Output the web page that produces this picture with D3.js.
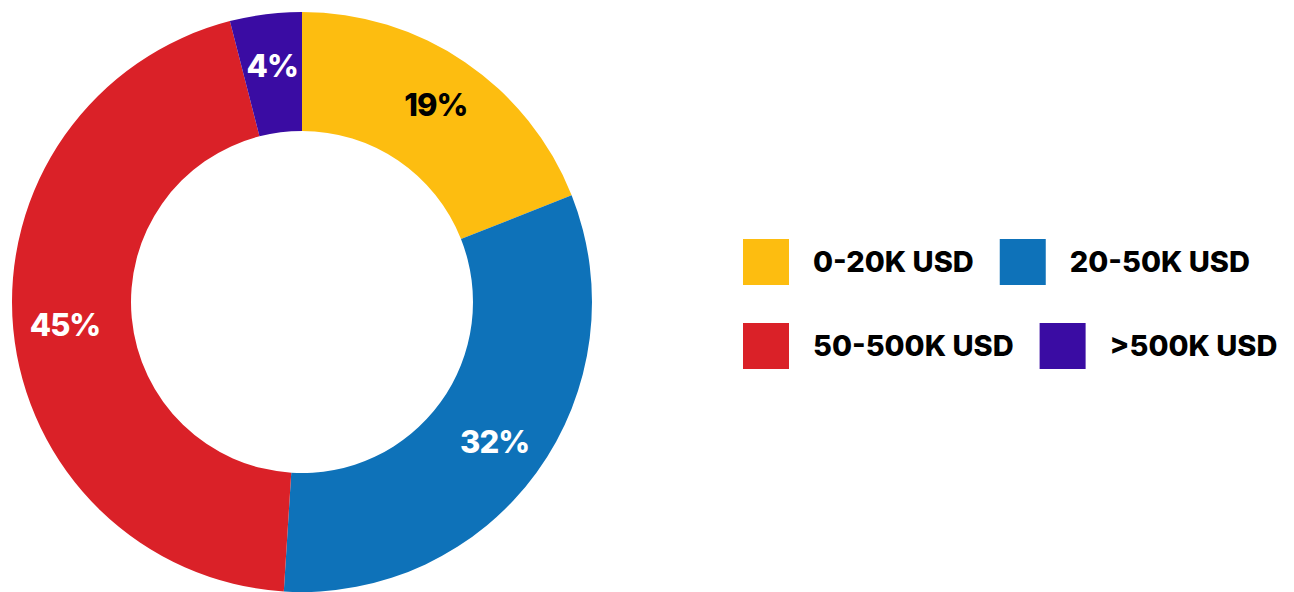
<!DOCTYPE html>
<html>
<head>
<meta charset="utf-8">
<script src="https://cdn.jsdelivr.net/npm/d3@7"></script>
<style>
  body { margin: 0; background: #fff; }
  svg { display: block; font-family: Inter, Roboto, sans-serif; }
</style>
</head>
<body>
<svg id="donut" width="1294" height="592"></svg>
<script>
const categories = ['0-20K USD', '20-50K USD', '50-500K USD', '>500K USD'];
const shares = [19, 32, 45, 4];
const colors = ['#FDBD10', '#0E72B9', '#DA2128', '#3A0CA3'];
const labelColors = ['#000', '#fff', '#fff', '#fff'];

const svg = d3.select('svg#donut');
const cx = 302, cy = 302;
const outerR = 290, innerR = 171;

const pie = d3.pie().sort(null).value(d => d.value);
const arc = d3.arc().innerRadius(innerR).outerRadius(outerR);
const labelArc = d3.arc().innerRadius(238).outerRadius(238);

const data = categories.map((c, i) => ({ name: c, value: shares[i], i }));
const color = d3.scaleOrdinal().domain(categories).range(colors);

const chartG = svg.append('g')
  .attr('transform', `translate(${cx},${cy})`);

const slices = pie(data);

chartG.selectAll('path')
  .data(slices)
  .enter()
  .append('path')
  .attr('d', arc)
  .attr('fill', d => color(d.data.name));

chartG.selectAll('text')
  .data(slices)
  .enter()
  .append('text')
  .attr('transform', d => `translate(${labelArc.centroid(d)})`)
  .attr('text-anchor', 'middle')
  .attr('dy', '0.36em')
  .style('font-size', '31px')
  .style('font-weight', 800)
  .style('letter-spacing', '-1px')
  .style('fill', d => labelColors[d.data.i])
  .text(d => d.data.value + '%');

// legend, two items per row
const legendG = svg.append('g').attr('transform', 'translate(743, 239)');
const box = 46, textGap = 24, itemGap = 26, rowStep = 84;
let x = 0;
data.forEach((d, i) => {
  if (i % 2 === 0) x = 0;
  const row = Math.floor(i / 2);
  const item = legendG.append('g')
    .attr('transform', `translate(${x},${row * rowStep})`);
  item.append('rect')
    .attr('width', box).attr('height', box)
    .attr('fill', color(d.name));
  const t = item.append('text')
    .attr('x', box + textGap)
    .attr('y', box / 2)
    .attr('dy', '0.36em')
    .style('font-size', '29px')
    .style('font-weight', 800)
    .style('fill', '#000')
    .text(d.name);
  x += box + textGap + t.node().getComputedTextLength() + itemGap;
});
</script>
</body>
</html>
